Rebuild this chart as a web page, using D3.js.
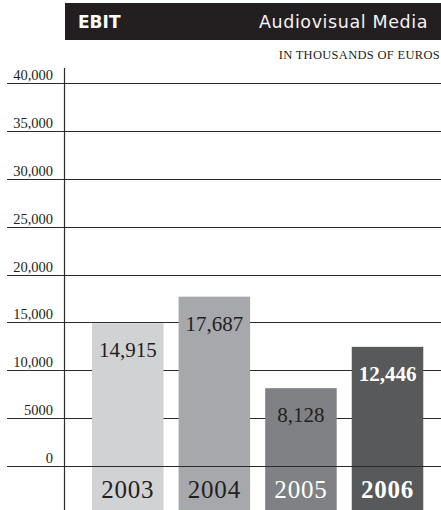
<!DOCTYPE html>
<html>
<head>
<meta charset="utf-8">
<script src="https://cdn.jsdelivr.net/npm/d3@7"></script>
<style>
  html, body { margin: 0; padding: 0; background: #fff; }
  svg { display: block; }
</style>
</head>
<body>
<script>
// EBIT, Audiovisual Media, in thousands of euros
const years = ["2003", "2004", "2005", "2006"];
const ebit = [14915, 17687, 8128, 12446];
const valueLabels = ["14,915", "17,687", "8,128", "12,446"];
const barColors = ["#d1d2d4", "#a7a8ab", "#808184", "#58595b"];
const labelColors = ["#231f20", "#231f20", "#231f20", "#ffffff"];
const yearColors = ["#231f20", "#231f20", "#ffffff", "#ffffff"];
const boldLabel = [false, false, false, true];
const tickValues = [0, 5000, 10000, 15000, 20000, 25000, 30000, 35000, 40000];
const tickLabels = ["0", "5000", "10,000", "15,000", "20,000", "25,000", "30,000", "35,000", "40,000"];

const W = 441, H = 510;
const svg = d3.select("body").append("svg").attr("width", W).attr("height", H);

const y = d3.scaleLinear().domain([0, 40000]).range([466, 83]);
const x = d3.scaleBand().domain(years).range([84.5, 430.8])
  .paddingInner(0.174).paddingOuter(0.087);

const serif = "'Liberation Serif', 'Times New Roman', serif";

// header band
svg.append("rect").attr("x", 65).attr("y", 3).attr("width", W - 65).attr("height", 37)
  .attr("fill", "#231f20");
svg.append("text").attr("x", 78).attr("y", 28)
  .attr("font-family", "'DejaVu Sans', sans-serif").attr("font-weight", "bold")
  .attr("font-size", 17).attr("fill", "#ffffff").text("EBIT");
svg.append("text").attr("x", 428).attr("y", 28).attr("text-anchor", "end")
  .attr("font-family", "'DejaVu Sans', sans-serif").attr("font-size", 17.5)
  .attr("letter-spacing", 0.6).attr("fill", "#f2f2f2").text("Audiovisual Media");
svg.append("text").attr("x", 440).attr("y", 59).attr("text-anchor", "end")
  .attr("font-family", serif).attr("font-size", 12.5).attr("letter-spacing", 0.3)
  .attr("fill", "#231f20")
  .text("IN THOUSANDS OF EUROS");

// horizontal rules behind the bars
svg.append("g").selectAll("line").data(tickValues.filter(d => d > 0)).join("line")
  .attr("x1", 7).attr("x2", W)
  .attr("y1", d => Math.round(y(d)) + 0.5).attr("y2", d => Math.round(y(d)) + 0.5)
  .attr("stroke", "#2b2b2b").attr("stroke-width", 1.2);

// tick labels
svg.append("g").selectAll("text").data(tickValues).join("text")
  .attr("x", 53).attr("y", d => Math.round(y(d)) - 3)
  .attr("text-anchor", "end").attr("font-family", serif).attr("font-size", 14.5)
  .attr("fill", "#231f20")
  .text((d, i) => tickLabels[i]);

// vertical axis
svg.append("line").attr("x1", 64.5).attr("x2", 64.5).attr("y1", 68).attr("y2", H)
  .attr("stroke", "#2b2b2b").attr("stroke-width", 1.2);

// bars, running below the zero rule to hold the year labels
svg.append("g").selectAll("rect").data(ebit).join("rect")
  .attr("x", (d, i) => x(years[i]))
  .attr("y", d => y(d))
  .attr("width", x.bandwidth())
  .attr("height", d => H - y(d))
  .attr("fill", (d, i) => barColors[i]);

// zero rule over the bars
svg.append("line").attr("x1", 7).attr("x2", W)
  .attr("y1", Math.round(y(0)) + 0.5).attr("y2", Math.round(y(0)) + 0.5)
  .attr("stroke", "#2b2b2b").attr("stroke-width", 1.2);

// value labels
svg.append("g").selectAll("text").data(ebit).join("text")
  .attr("x", (d, i) => x(years[i]) + x.bandwidth() / 2)
  .attr("y", d => y(d) + 34)
  .attr("text-anchor", "middle").attr("font-family", serif).attr("font-size", 21)
  .attr("font-weight", (d, i) => boldLabel[i] ? "bold" : "normal")
  .attr("fill", (d, i) => labelColors[i])
  .text((d, i) => valueLabels[i]);

// year labels
svg.append("g").selectAll("text").data(years).join("text")
  .attr("x", d => x(d) + x.bandwidth() / 2)
  .attr("y", 498)
  .attr("text-anchor", "middle").attr("font-family", serif).attr("font-size", 25)
  .attr("letter-spacing", 0.8)
  .attr("font-weight", (d, i) => boldLabel[i] ? "bold" : "normal")
  .attr("fill", (d, i) => yearColors[i])
  .text(d => d);
</script>
</body>
</html>
